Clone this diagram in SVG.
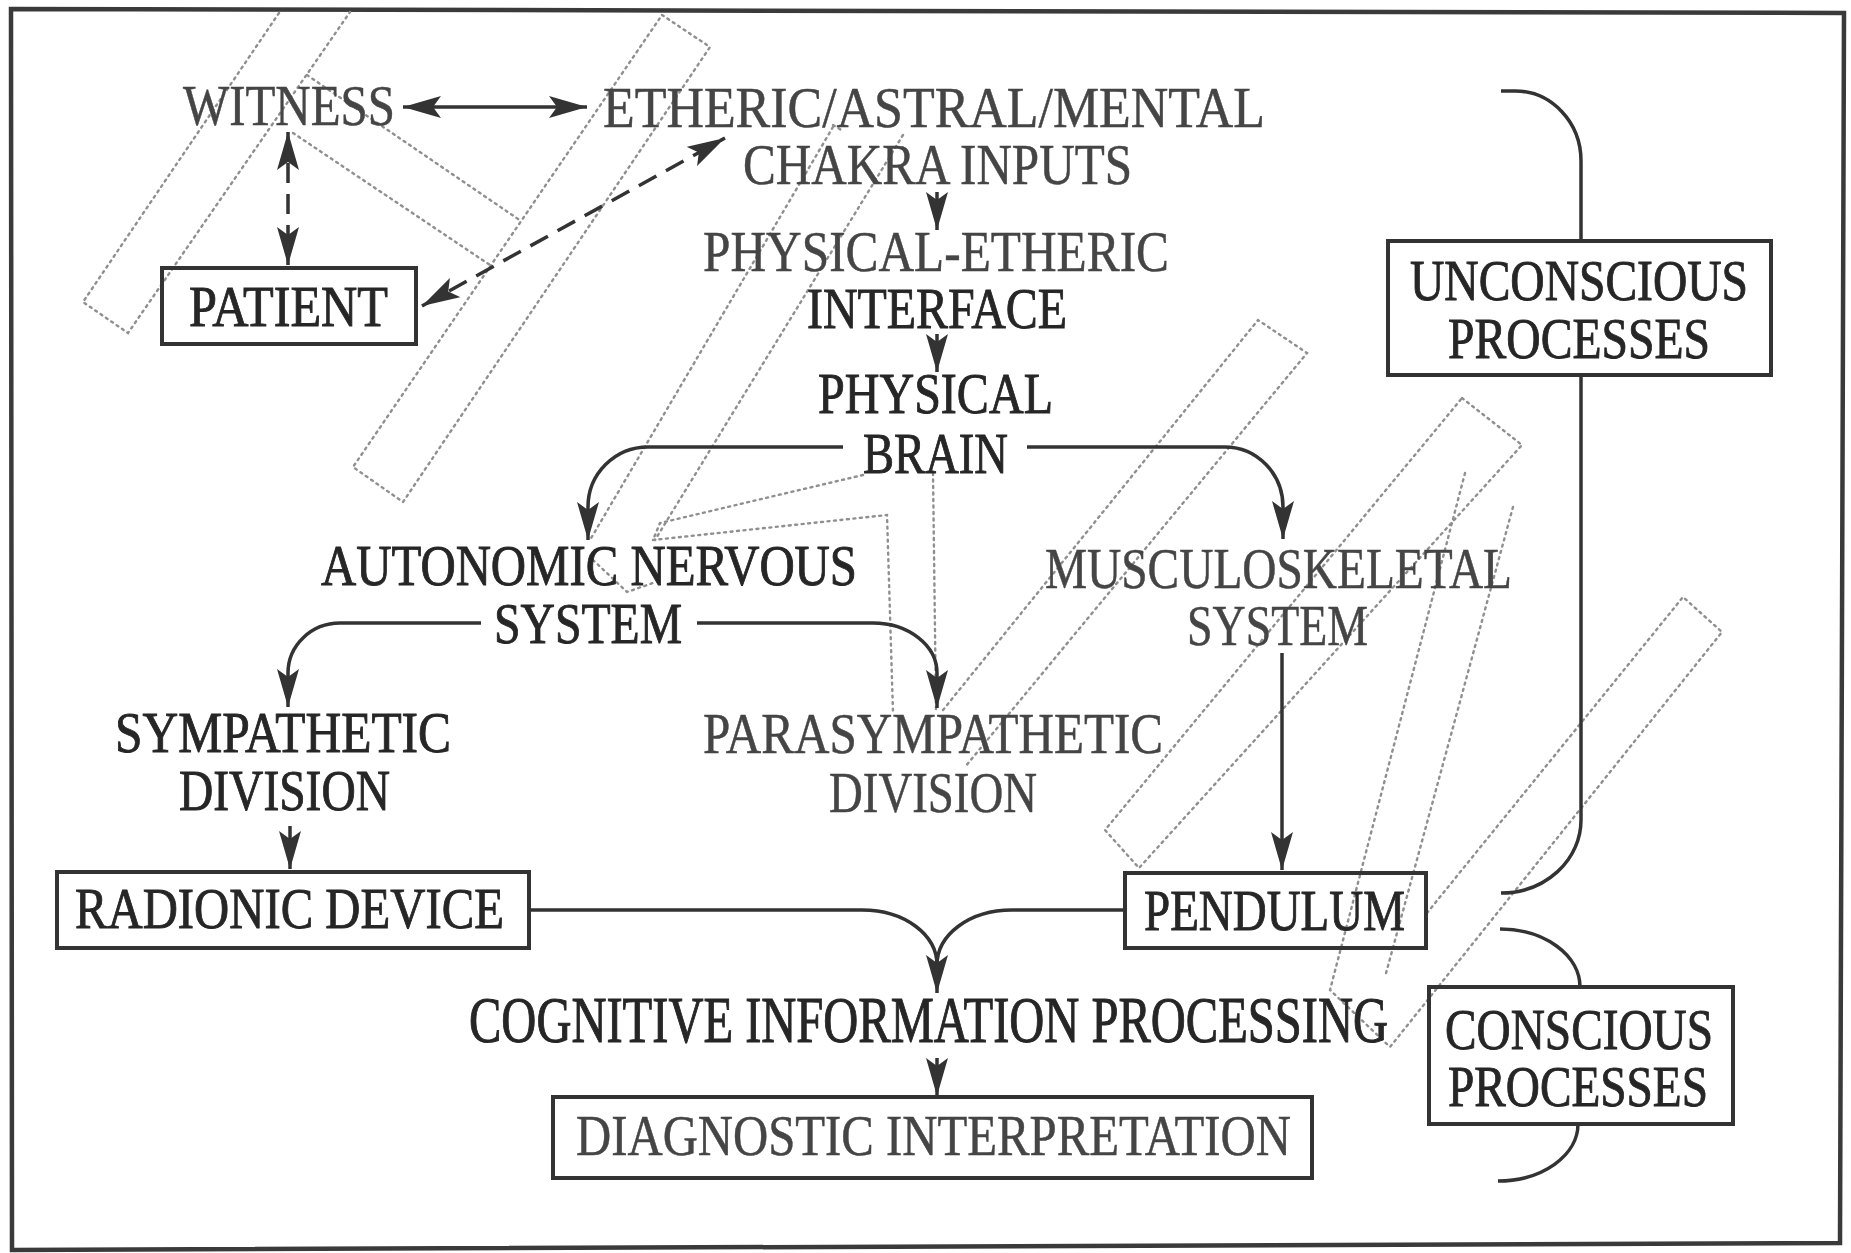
<svg xmlns="http://www.w3.org/2000/svg" width="1851" height="1253" viewBox="0 0 1851 1253">
<style>
.t{font-family:"Liberation Serif","Times New Roman",serif;font-size:57px;fill:#262626;stroke:#262626;stroke-width:0.9}
.lt{fill:#454545;stroke:#454545;stroke-width:0.5}
.box{fill:none;stroke:#333;stroke-width:4}
.con{fill:none;stroke:#333;stroke-width:3.5}
.dash{stroke-dasharray:20 11}
.brk{fill:none;stroke:#333;stroke-width:3.5}
.dot{fill:none;stroke:#8f8f8f;stroke-width:2.4;stroke-dasharray:2 4.5;stroke-linecap:round}
</style>
<defs>
<marker id="ah" markerUnits="userSpaceOnUse" markerWidth="40" markerHeight="24" refX="38" refY="11" orient="auto-start-reverse" viewBox="0 0 40 24">
<path d="M0,0 L38,11 L0,22 L8,11 Z" fill="#333"/>
</marker>
</defs>
<rect width="1851" height="1253" fill="#ffffff"/>
<polygon points="11,9 1844,13 1840,1243 12,1250" fill="none" stroke="#3a3a3a" stroke-width="4.5"/>

<g id="bleed">
<polyline class="dot" points="279,13 83,302 128,333 350,12"/>
<line class="dot" x1="307" y1="75" x2="521" y2="221"/>
<line class="dot" x1="293" y1="133" x2="490" y2="265"/>
<polygon class="dot" points="662,15 710,47 403,502 353,467"/>
<polyline class="dot" points="833,125 843,131"/>
<line class="dot" x1="833" y1="127" x2="590" y2="540"/>
<line class="dot" x1="903" y1="135" x2="655" y2="540"/>
<polyline class="dot" points="863,475 660,523 653,540"/>
<polyline class="dot" points="653,540 887,515 893,713"/>
<line class="dot" x1="933" y1="473" x2="936" y2="710"/>
<polyline class="dot" points="593,560 627,592 653,583"/>
<polyline class="dot" points="943,710 1258,320 1307,353 965,767"/>
<polygon class="dot" points="1462,398 1522,445 1139,868 1105,830"/>
<polyline class="dot" points="1465,473 1330,990 1390,1047"/>
<line class="dot" x1="1513" y1="507" x2="1385" y2="977"/>
<polyline class="dot" points="1427,913 1683,597 1722,632 1390,1047"/>
</g>

<g id="connectors">
<line class="con" x1="403" y1="107" x2="587" y2="107" marker-start="url(#ah)" marker-end="url(#ah)"/>
<line class="con dash" x1="288" y1="132" x2="288" y2="265" marker-start="url(#ah)" marker-end="url(#ah)"/>
<line class="con dash" x1="422" y1="306" x2="725" y2="138" marker-start="url(#ah)" marker-end="url(#ah)"/>
<line class="con" x1="937" y1="192" x2="937" y2="230" marker-end="url(#ah)"/>
<line class="con" x1="937" y1="334" x2="937" y2="372" marker-end="url(#ah)"/>
<path class="con" d="M843,447 H648 A60,60 0 0 0 588,507 V540" marker-end="url(#ah)"/>
<path class="con" d="M1027,447 H1225 A58,60 0 0 1 1283,507 V539" marker-end="url(#ah)"/>
<path class="con" d="M481,623 H340 A52,50 0 0 0 288,673 V707" marker-end="url(#ah)"/>
<path class="con" d="M697,623 H873 A64,50 0 0 1 937,673 V708" marker-end="url(#ah)"/>
<line class="con" x1="290" y1="826" x2="290" y2="869" marker-end="url(#ah)"/>
<line class="con" x1="1282" y1="653" x2="1282" y2="870" marker-end="url(#ah)"/>
<path class="con" d="M529,910 H862 C905,910 937,935 937,965 V993" marker-end="url(#ah)"/>
<path class="con" d="M1125,910 H1012 C969,910 937,935 937,965"/>
<line class="con" x1="937" y1="1058" x2="937" y2="1096" marker-end="url(#ah)"/>
<path class="brk" d="M1501,91 H1515 A66,70 0 0 1 1581,161 V241"/>
<path class="brk" d="M1581,375 V820 A80,73 0 0 1 1501,893"/>
<path class="brk" d="M1500,929 A80,58 0 0 1 1580,987"/>
<path class="brk" d="M1578,1124 A80,57 0 0 1 1498,1181"/>
</g>

<g id="witness"><text class="t lt" x="183" y="125" textLength="212" lengthAdjust="spacingAndGlyphs">WITNESS</text></g>
<g id="etheric"><text class="t lt" x="603" y="127" textLength="662" lengthAdjust="spacingAndGlyphs">ETHERIC/ASTRAL/MENTAL</text>
<text class="t lt" x="743" y="184" textLength="389" lengthAdjust="spacingAndGlyphs">CHAKRA INPUTS</text></g>
<g id="patient"><rect class="box" x="162" y="268" width="254" height="76"/>
<text class="t" x="189" y="326" textLength="199" lengthAdjust="spacingAndGlyphs">PATIENT</text></g>
<g id="interface"><text class="t lt" x="703" y="271" textLength="466" lengthAdjust="spacingAndGlyphs">PHYSICAL-ETHERIC</text>
<text class="t" x="807" y="328" textLength="260" lengthAdjust="spacingAndGlyphs">INTERFACE</text></g>
<g id="brain"><text class="t" x="818" y="413" font-size="54" textLength="235" lengthAdjust="spacingAndGlyphs">PHYSICAL</text>
<text class="t" x="863" y="473" font-size="54" textLength="145" lengthAdjust="spacingAndGlyphs">BRAIN</text></g>
<g id="unconscious"><rect class="box" x="1388" y="241" width="383" height="134"/>
<text class="t" x="1410" y="300" textLength="338" lengthAdjust="spacingAndGlyphs">UNCONSCIOUS</text>
<text class="t" x="1448" y="358" textLength="262" lengthAdjust="spacingAndGlyphs">PROCESSES</text></g>
<g id="ans"><text class="t" x="321" y="585" textLength="536" lengthAdjust="spacingAndGlyphs">AUTONOMIC NERVOUS</text>
<text class="t" x="494" y="643" textLength="188" lengthAdjust="spacingAndGlyphs">SYSTEM</text></g>
<g id="musculoskeletal"><text class="t lt" x="1045" y="588" textLength="467" lengthAdjust="spacingAndGlyphs">MUSCULOSKELETAL</text>
<text class="t lt" x="1187" y="645" textLength="181" lengthAdjust="spacingAndGlyphs">SYSTEM</text></g>
<g id="sympathetic"><text class="t" x="115" y="752" textLength="336" lengthAdjust="spacingAndGlyphs">SYMPATHETIC</text>
<text class="t" x="179" y="810" textLength="211" lengthAdjust="spacingAndGlyphs">DIVISION</text></g>
<g id="parasympathetic"><text class="t lt" x="703" y="753" textLength="460" lengthAdjust="spacingAndGlyphs">PARASYMPATHETIC</text>
<text class="t lt" x="829" y="812" textLength="208" lengthAdjust="spacingAndGlyphs">DIVISION</text></g>
<g id="radionic"><rect class="box" x="57" y="872" width="472" height="76"/>
<text class="t" x="75" y="928" textLength="429" lengthAdjust="spacingAndGlyphs">RADIONIC DEVICE</text></g>
<g id="pendulum"><rect class="box" x="1125" y="873" width="301" height="75"/>
<text class="t" x="1144" y="930" textLength="261" lengthAdjust="spacingAndGlyphs">PENDULUM</text></g>
<g id="cognitive"><text class="t" x="469" y="1042" font-size="50" transform="matrix(1,0,0,1.15,0,-156.3)" textLength="919" lengthAdjust="spacingAndGlyphs">COGNITIVE INFORMATION PROCESSING</text></g>
<g id="conscious"><rect class="box" x="1429" y="987" width="304" height="137"/>
<text class="t" x="1445" y="1049" textLength="268" lengthAdjust="spacingAndGlyphs">CONSCIOUS</text>
<text class="t" x="1448" y="1106" textLength="260" lengthAdjust="spacingAndGlyphs">PROCESSES</text></g>
<g id="diagnostic"><rect class="box" x="553" y="1097" width="759" height="81"/>
<text class="t lt" x="576" y="1155" textLength="715" lengthAdjust="spacingAndGlyphs">DIAGNOSTIC INTERPRETATION</text></g>
</svg>
